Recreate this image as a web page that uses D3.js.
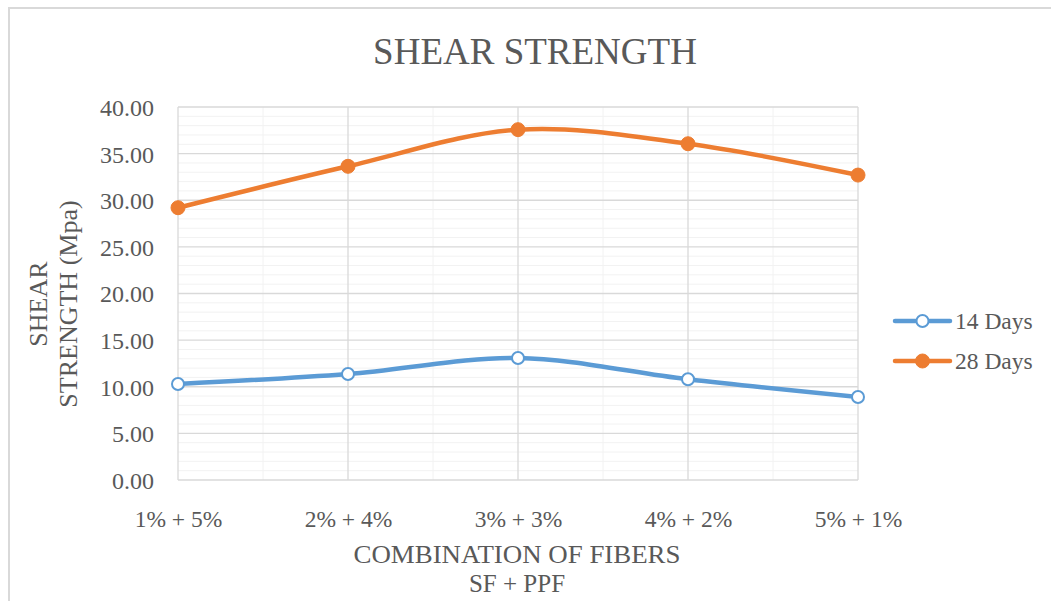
<!DOCTYPE html>
<html>
<head>
<meta charset="utf-8">
<script src="https://cdn.jsdelivr.net/npm/d3@7"></script>
<style>
  html, body { margin: 0; padding: 0; background: #fff; }
  svg { display: block; font-family: 'Liberation Serif', 'Times New Roman', serif; }
</style>
</head>
<body>
<div class="container"></div>
<script>
const categories = ['1% + 5%', '2% + 4%', '3% + 3%', '4% + 2%', '5% + 1%']
const days14 = [10.3, 11.37, 13.08, 10.8, 8.9]
const days28 = [29.2, 33.64, 37.57, 36.06, 32.7]
const seriesNames = ['14 Days', '28 Days']
const yTicks = [0, 5, 10, 15, 20, 25, 30, 35, 40]

const W = 1051
const H = 601
const plot = { left: 178, right: 858, top: 107, bottom: 480 }
const textColor = '#595959'
const colors = { '14 Days': '#5B9BD5', '28 Days': '#ED7D31' }

const svg = d3
  .select('.container')
  .append('svg')
  .attr('width', W)
  .attr('height', H)

// chart area border
svg
  .append('rect')
  .attr('x', 9)
  .attr('y', 8)
  .attr('width', W + 20)
  .attr('height', H + 20)
  .attr('fill', '#fff')
  .attr('stroke', '#d9d9d9')
  .attr('stroke-width', 2)

const x = d3
  .scalePoint()
  .domain(categories)
  .range([plot.left, plot.right])

const y = d3
  .scaleLinear()
  .domain([0, 40])
  .range([plot.bottom, plot.top])

// minor gridlines
const minorY = d3.range(0, 40, 1).filter((v) => v % 5 !== 0)
svg
  .append('g')
  .selectAll('line')
  .data(minorY)
  .enter()
  .append('line')
  .attr('x1', plot.left)
  .attr('x2', plot.right)
  .attr('y1', (d) => y(d))
  .attr('y2', (d) => y(d))
  .attr('stroke', '#f2f2f2')
  .attr('stroke-width', 1)

const step = x.step()
svg
  .append('g')
  .selectAll('line')
  .data(categories.slice(0, -1))
  .enter()
  .append('line')
  .attr('x1', (d) => x(d) + step / 2)
  .attr('x2', (d) => x(d) + step / 2)
  .attr('y1', plot.top)
  .attr('y2', plot.bottom)
  .attr('stroke', '#f2f2f2')
  .attr('stroke-width', 1)

// major gridlines
svg
  .append('g')
  .selectAll('line')
  .data(yTicks)
  .enter()
  .append('line')
  .attr('x1', plot.left)
  .attr('x2', plot.right)
  .attr('y1', (d) => y(d))
  .attr('y2', (d) => y(d))
  .attr('stroke', '#d9d9d9')
  .attr('stroke-width', 1.3)

svg
  .append('g')
  .selectAll('line')
  .data(categories)
  .enter()
  .append('line')
  .attr('x1', (d) => x(d))
  .attr('x2', (d) => x(d))
  .attr('y1', plot.top)
  .attr('y2', plot.bottom)
  .attr('stroke', '#d9d9d9')
  .attr('stroke-width', 1.3)

// y axis labels
const yAxis = d3
  .axisLeft(y)
  .tickValues(yTicks)
  .tickSize(0)
  .tickPadding(24)
  .tickFormat(d3.format('.2f'))

svg
  .append('g')
  .attr('transform', `translate(${plot.left},0)`)
  .call(yAxis)
  .call((g) => g.select('.domain').remove())
  .selectAll('text')
  .attr('fill', textColor)
  .attr('font-size', 24)
  .attr('font-family', "'Liberation Serif', serif")
  .attr('dy', '0.35em')

// x axis labels
const xAxis = d3.axisBottom(x).tickSize(0).tickPadding(30)
svg
  .append('g')
  .attr('transform', `translate(0,${plot.bottom})`)
  .call(xAxis)
  .call((g) => g.select('.domain').remove())
  .selectAll('text')
  .attr('fill', textColor)
  .attr('font-size', 23.5)
  .attr('font-family', "'Liberation Serif', serif")

// lines
const line = d3
  .line()
  .x((d, i) => x(categories[i]))
  .y((d) => y(d))
  .curve(d3.curveCatmullRom.alpha(0.5))

const series = [
  { name: '14 Days', values: days14 },
  { name: '28 Days', values: days28 },
]

series.forEach((s) => {
  svg
    .append('path')
    .datum(s.values)
    .attr('d', line)
    .attr('fill', 'none')
    .attr('stroke', colors[s.name])
    .attr('stroke-width', 4.5)
    .attr('stroke-linecap', 'round')

  svg
    .append('g')
    .selectAll('circle')
    .data(s.values)
    .enter()
    .append('circle')
    .attr('cx', (d, i) => x(categories[i]))
    .attr('cy', (d) => y(d))
    .attr('r', s.name === '14 Days' ? 6 : 7)
    .attr('fill', s.name === '14 Days' ? '#fff' : colors[s.name])
    .attr('stroke', colors[s.name])
    .attr('stroke-width', s.name === '14 Days' ? 2 : 1)
})

// title
svg
  .append('text')
  .attr('x', 535)
  .attr('y', 64)
  .attr('text-anchor', 'middle')
  .attr('font-size', 37)
  .attr('fill', textColor)
  .text('SHEAR STRENGTH')

// x axis title
svg
  .append('text')
  .attr('x', 517)
  .attr('y', 563)
  .attr('text-anchor', 'middle')
  .attr('font-size', 25)
  .attr('textLength', 327)
  .attr('lengthAdjust', 'spacingAndGlyphs')
  .attr('fill', textColor)
  .text('COMBINATION OF FIBERS')

svg
  .append('text')
  .attr('x', 517)
  .attr('y', 592)
  .attr('text-anchor', 'middle')
  .attr('font-size', 25)
  .attr('fill', textColor)
  .text('SF + PPF')

// y axis title
const yTitle = svg
  .append('text')
  .attr('transform', 'translate(47,304) rotate(-90)')
  .attr('text-anchor', 'middle')
  .attr('font-size', 26)
  .attr('fill', textColor)
yTitle.append('tspan').attr('x', 0).attr('y', 0).text('SHEAR')
yTitle.append('tspan').attr('x', 0).attr('y', 30).text('STRENGTH (Mpa)')

// legend
const legend = svg
  .append('g')
  .selectAll('g')
  .data(seriesNames)
  .enter()
  .append('g')
  .attr('transform', (d, i) => `translate(895,${321 + i * 40})`)

legend
  .append('line')
  .attr('x1', 0)
  .attr('x2', 55)
  .attr('stroke', (d) => colors[d])
  .attr('stroke-width', 4.5)
  .attr('stroke-linecap', 'round')

legend
  .append('circle')
  .attr('cx', 27.5)
  .attr('r', (d) => (d === '14 Days' ? 6 : 7))
  .attr('fill', (d) => (d === '14 Days' ? '#fff' : colors[d]))
  .attr('stroke', (d) => colors[d])
  .attr('stroke-width', (d) => (d === '14 Days' ? 2 : 1))

legend
  .append('text')
  .attr('x', 60)
  .attr('dy', '0.35em')
  .attr('font-size', 23.5)
  .attr('fill', textColor)
  .text((d) => d)
</script>
</body>
</html>
